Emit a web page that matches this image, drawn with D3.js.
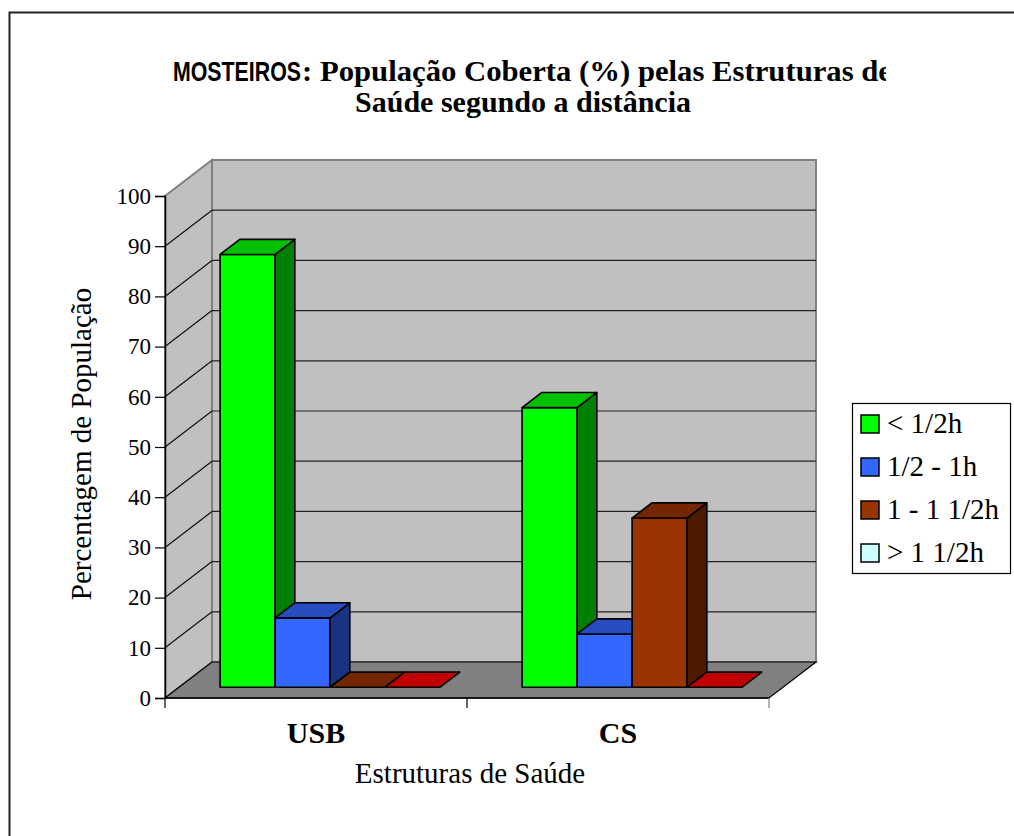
<!DOCTYPE html>
<meta charset="utf-8">
<title>MOSTEIROS - População Coberta</title>
<body style="margin:0;background:#fff;overflow:hidden">
<script src="https://d3js.org/d3.v7.min.js"></script>
<script>
// data
const categories = ["USB", "CS"];
const series = ["< 1/2h", "1/2 - 1h", "1 - 1 1/2h", "> 1 1/2h"];
const usbValues = [86.2, 13.8, 0, 0];
const csValues = [55.7, 10.6, 33.7, 0];
const yTicks = [0, 10, 20, 30, 40, 50, 60, 70, 80, 90, 100];

// colours for each face of the 3d columns
const frontColors = ["#00FF00", "#3366FF", "#993300", "#CCFFFF"];
const topColors = ["#00C000", "#264CBF", "#732600", "#C00000"];
const sideColors = ["#008000", "#1A3380", "#4D1A00", "#668080"];

var width = 1014, height = 836;
var ox = 165, oy = 698, axisW = 604;     // front axis
var depthX = 47, depthY = -36;           // wall depth
var serif = "'Liberation Serif', 'Times New Roman', serif";

var svg = d3.select("body").append("svg")
    .style("display", "block")
    .attr("width", width)
    .attr("height", height);

// outer frame (right and bottom edges fall outside the picture)
svg.append("rect")
    .attr("x", 9.5).attr("y", 12.5)
    .attr("width", 1100).attr("height", 900)
    .attr("fill", "#fff")
    .attr("stroke", "#222")
    .attr("stroke-width", 2);

var y = d3.scaleLinear().domain([0, 100]).range([oy, oy - 502]);
var x0 = d3.scaleBand().domain(categories).range([ox, ox + axisW]);
var x1 = d3.scaleBand().domain(series).range([0, x0.bandwidth()]).paddingOuter(0.745);

var bx = ox + depthX, by = depthY;

// left wall
svg.append("path")
    .attr("d", `M${ox},${y(0)}L${bx},${y(0) + by}L${bx},${y(100) + by}L${ox},${y(100)}Z`)
    .attr("fill", "#C0C0C0")
    .attr("stroke", "#808080").attr("stroke-width", 2);

// back wall
svg.append("rect")
    .attr("x", bx).attr("y", y(100) + by)
    .attr("width", axisW).attr("height", y(0) - y(100))
    .attr("fill", "#C0C0C0")
    .attr("stroke", "#808080").attr("stroke-width", 2);

// floor
svg.append("path")
    .attr("d", `M${ox},${y(0)}L${ox + axisW},${y(0)}L${bx + axisW},${y(0) + by}L${bx},${y(0) + by}Z`)
    .attr("fill", "#808080")
    .attr("stroke", "#000").attr("stroke-width", 1.2);

// gridlines on both walls
var grid = yTicks.filter(d => d > 0 && d < 100);
svg.append("g").selectAll("line.back")
    .data(grid)
    .join("line")
    .attr("x1", bx).attr("x2", bx + axisW)
    .attr("y1", d => y(d) + by).attr("y2", d => y(d) + by)
    .attr("stroke", "#222").attr("stroke-width", 1.2);
svg.append("g").selectAll("line.side")
    .data(grid)
    .join("line")
    .attr("x1", ox).attr("x2", bx)
    .attr("y1", d => y(d)).attr("y2", d => y(d) + by)
    .attr("stroke", "#111").attr("stroke-width", 1.2);

// 3d columns
var f = 0.3, b = 0.72;
var fx = f * depthX, fy = f * depthY;
var dx = (b - f) * depthX, dy = (b - f) * depthY;

var rows = [];
categories.forEach((c, ci) => {
    var vals = ci === 0 ? usbValues : csValues;
    series.forEach((s, si) => rows.push({cat: c, s: s, si: si, v: vals[si]}));
});

var bars = svg.append("g")
    .attr("stroke", "#000")
    .attr("stroke-width", 1.6)
    .attr("stroke-linejoin", "round");

rows.forEach(d => {
    var l = x0(d.cat) + x1(d.s) + fx;
    var r = l + x1.bandwidth();
    var bot = oy + fy;
    var top = bot - (oy - y(d.v));
    var g = bars.append("g");
    if (d.v > 0) {
        g.append("path")
            .attr("d", `M${l},${bot}L${r},${bot}L${r},${top}L${l},${top}Z`)
            .attr("fill", frontColors[d.si]);
        g.append("path")
            .attr("d", `M${r},${top}L${r + dx},${top + dy}L${r + dx},${bot + dy}L${r},${bot}Z`)
            .attr("fill", sideColors[d.si]);
    }
    g.append("path")
        .attr("d", `M${l},${top}L${r},${top}L${r + dx},${top + dy}L${l + dx},${top + dy}Z`)
        .attr("fill", topColors[d.si]);
});

// y axis
var yAxis = svg.append("g")
    .attr("transform", `translate(${ox},0)`)
    .call(d3.axisLeft(y).tickValues(yTicks).tickSize(10).tickPadding(4));
yAxis.select(".domain").attr("stroke", "#000").attr("stroke-width", 1.5);
yAxis.selectAll(".tick line").attr("stroke", "#000").attr("stroke-width", 1.2);
yAxis.selectAll("text")
    .attr("font-family", serif)
    .attr("font-size", 23)
    .attr("fill", "#000");

// x axis
svg.append("line")
    .attr("x1", ox).attr("x2", ox + axisW)
    .attr("y1", oy).attr("y2", oy)
    .attr("stroke", "#000").attr("stroke-width", 1.6);
var xEdges = categories.map(c => x0(c)).concat([ox + axisW]);
svg.append("g").selectAll("line")
    .data(xEdges)
    .join("line")
    .attr("x1", d => d).attr("x2", d => d)
    .attr("y1", oy).attr("y2", oy + 10)
    .attr("stroke", (d, i) => i === xEdges.length - 1 ? "#808080" : "#000")
    .attr("stroke-width", 1.2);
svg.append("g").selectAll("text")
    .data(categories)
    .join("text")
    .attr("x", d => x0(d) + x0.bandwidth() / 2)
    .attr("y", 743)
    .attr("text-anchor", "middle")
    .attr("font-family", serif)
    .attr("font-weight", "bold")
    .attr("font-size", 30)
    .text(d => d);

// axis titles
svg.append("text")
    .attr("x", 470).attr("y", 783)
    .attr("text-anchor", "middle")
    .attr("font-family", serif)
    .attr("font-size", 29)
    .text("Estruturas de Saúde");
svg.append("text")
    .attr("transform", "translate(91,444) rotate(-90)")
    .attr("text-anchor", "middle")
    .attr("font-family", serif)
    .attr("font-size", 29)
    .text("Percentagem de População");

// title, the first line is cut at the right
svg.append("clipPath").attr("id", "tclip")
    .append("rect").attr("x", 0).attr("y", 0).attr("width", 886).attr("height", 140);
var title = svg.append("g").attr("clip-path", "url(#tclip)");
// narrow sans word, squeezed horizontally
title.append("text")
    .attr("transform", "translate(173,81) scale(0.79,1)")
    .attr("font-family", "'Liberation Sans', Arial, sans-serif")
    .attr("font-weight", "bold")
    .attr("font-size", 27)
    .text("MOSTEIROS");
title.append("text")
    .attr("x", 302).attr("y", 81)
    .attr("font-family", serif)
    .attr("font-weight", "bold")
    .attr("font-size", 30)
    .attr("textLength", 590)
    .attr("lengthAdjust", "spacingAndGlyphs")
    .text(": População Coberta (%) pelas Estruturas de");
svg.append("text")
    .attr("x", 523).attr("y", 112)
    .attr("text-anchor", "middle")
    .attr("font-family", serif)
    .attr("font-weight", "bold")
    .attr("font-size", 30)
    .text("Saúde segundo a distância");

// legend
var legend = svg.append("g");
legend.append("rect")
    .attr("x", 852.5).attr("y", 403.5)
    .attr("width", 158).attr("height", 170)
    .attr("fill", "#fff")
    .attr("stroke", "#000").attr("stroke-width", 1.2);
var item = legend.selectAll("g.item")
    .data(series)
    .join("g")
    .attr("transform", (d, i) => `translate(861,${415 + i * 43})`);
item.append("rect")
    .attr("width", 18).attr("height", 18)
    .attr("fill", (d, i) => frontColors[i])
    .attr("stroke", "#000").attr("stroke-width", 1.5);
item.append("text")
    .attr("x", 26).attr("y", 18)
    .attr("font-family", serif)
    .attr("font-size", 29)
    .text(d => d);
</script>
</body>
